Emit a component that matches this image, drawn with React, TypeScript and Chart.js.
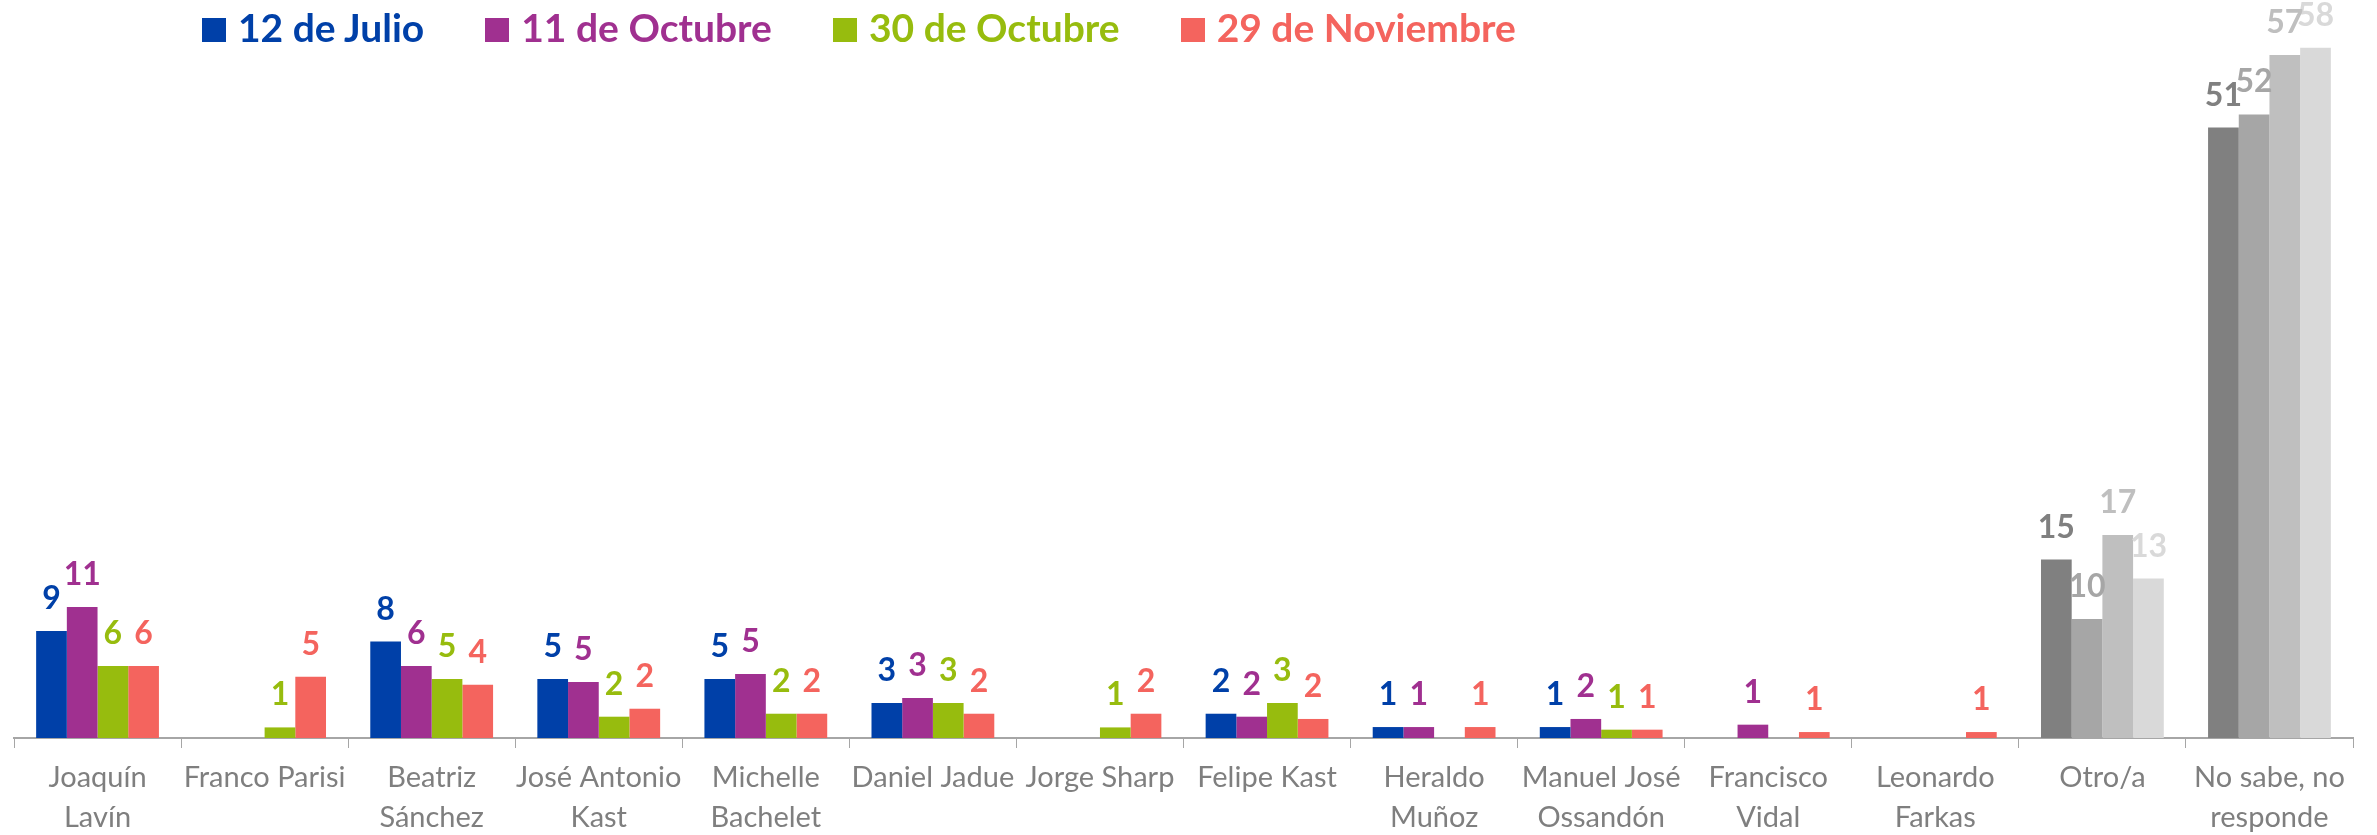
import React, { useEffect, useRef } from "react";
import { Chart, registerables } from "chart.js";

Chart.register(...registerables);

// ---- Data ----
const categories: (string | string[])[] = [
  ["Joaquín", "Lavín"],
  "Franco Parisi",
  ["Beatriz", "Sánchez"],
  ["José Antonio", "Kast"],
  ["Michelle", "Bachelet"],
  "Daniel Jadue",
  "Jorge Sharp",
  "Felipe Kast",
  ["Heraldo", "Muñoz"],
  ["Manuel José", "Ossandón"],
  ["Francisco", "Vidal"],
  ["Leonardo", "Farkas"],
  "Otro/a",
  ["No sabe, no", "responde"],
];

const seriesNames = ["12 de Julio", "11 de Octubre", "30 de Octubre", "29 de Noviembre"];

const julio12 = [9.0, null, 8.1, 4.96, 4.96, 2.94, null, 2.04, 0.92, 0.92, null, null, 15.0, 51.3];
const octubre11 = [11.0, null, 6.05, 4.7, 5.38, 3.36, null, 1.79, 0.92, 1.6, 1.12, null, 10.0, 52.4];
const octubre30 = [6.05, 0.89, 4.96, 1.79, 2.04, 2.94, 0.89, 2.94, null, 0.7, null, null, 17.06, 57.4];
const noviembre29 = [6.05, 5.15, 4.48, 2.46, 2.04, 2.04, 2.04, 1.6, 0.92, 0.7, 0.5, 0.5, 13.4, 58.0];

const seriesValues = [julio12, octubre11, octubre30, noviembre29];

const seriesColors = ["#0040A8", "#A03090", "#97BC0E", "#F4645E"];
const greyColors = ["#808080", "#A6A6A6", "#BFBFBF", "#D9D9D9"];
const greyCategoryIndexes = [12, 13];

const FONT = "Lato, 'Open Sans', sans-serif";

const valueLabels = {
  id: "valueLabels",
  afterDatasetsDraw(chart: any) {
    const ctx = chart.ctx;
    ctx.save();
    ctx.font = `bold 32px ${FONT}`;
    ctx.textAlign = "center";
    ctx.textBaseline = "alphabetic";
    for (let di = chart.data.datasets.length - 1; di >= 0; di--) {
      const ds = chart.data.datasets[di];
      const meta = chart.getDatasetMeta(di);
      meta.data.forEach((bar: any, i: number) => {
        const v = ds.data[i];
        if (v == null) return;
        ctx.fillStyle = ds.backgroundColor[i];
        ctx.fillText(String(Math.round(v)), bar.x, bar.y - 22);
      });
    }
    ctx.restore();
  },
};

export default function App() {
  const canvasRef = useRef<HTMLCanvasElement | null>(null);

  useEffect(() => {
    if (!canvasRef.current) return;
    const datasets = seriesNames.map((name, si) => ({
      label: name,
      data: seriesValues[si],
      backgroundColor: categories.map((_, ci) =>
        greyCategoryIndexes.includes(ci) ? greyColors[si] : seriesColors[si]
      ),
      borderWidth: 0,
      categoryPercentage: 0.735,
      barPercentage: 1.0,
    }));

    const chart = new Chart(canvasRef.current, {
      type: "bar",
      data: { labels: categories as any, datasets: datasets as any },
      options: {
        animation: false,
        responsive: true,
        maintainAspectRatio: false,
        layout: { padding: { left: 14, right: 24, top: 24, bottom: 0 } },
        plugins: {
          legend: { display: false },
          tooltip: { enabled: false },
        },
        scales: {
          x: {
            grid: {
              display: true,
              drawOnChartArea: false,
              drawTicks: true,
              tickLength: 10,
              color: "#A6A6A6",
              offset: true,
            },
            border: { display: true, color: "#A6A6A6", width: 2 },
            ticks: {
              color: "#7F7F7F",
              font: { family: FONT, size: 29, lineHeight: 1.36 },
              padding: 10,
              maxRotation: 0,
              autoSkip: false,
            },
            afterFit: (scale: any) => {
              scale.height = 97;
            },
          },
          y: {
            display: false,
            min: 0,
            max: 60,
          },
        },
      },
      plugins: [valueLabels],
    });
    return () => chart.destroy();
  }, []);

  return (
    <div
      style={{
        position: "fixed",
        left: 0,
        top: 0,
        width: "100vw",
        height: "100vh",
        background: "#fff",
      }}
    >
      <canvas ref={canvasRef} style={{ position: "absolute", left: 0, top: 0 }} />
      <div
        style={{
          position: "absolute",
          left: 202,
          top: 8,
          display: "flex",
          alignItems: "flex-start",
          fontFamily: FONT,
          fontWeight: 700,
          fontSize: 39,
          lineHeight: "39px",
          whiteSpace: "nowrap",
        }}
      >
        {seriesNames.map((name, i) => (
          <div
            key={name}
            style={{ display: "flex", alignItems: "flex-start", marginRight: 61 }}
          >
            <span
              style={{
                display: "inline-block",
                width: 24,
                height: 24,
                marginTop: 10,
                marginRight: 12,
                background: seriesColors[i],
              }}
            />
            <span style={{ color: seriesColors[i] }}>{name}</span>
          </div>
        ))}
      </div>
    </div>
  );
}
